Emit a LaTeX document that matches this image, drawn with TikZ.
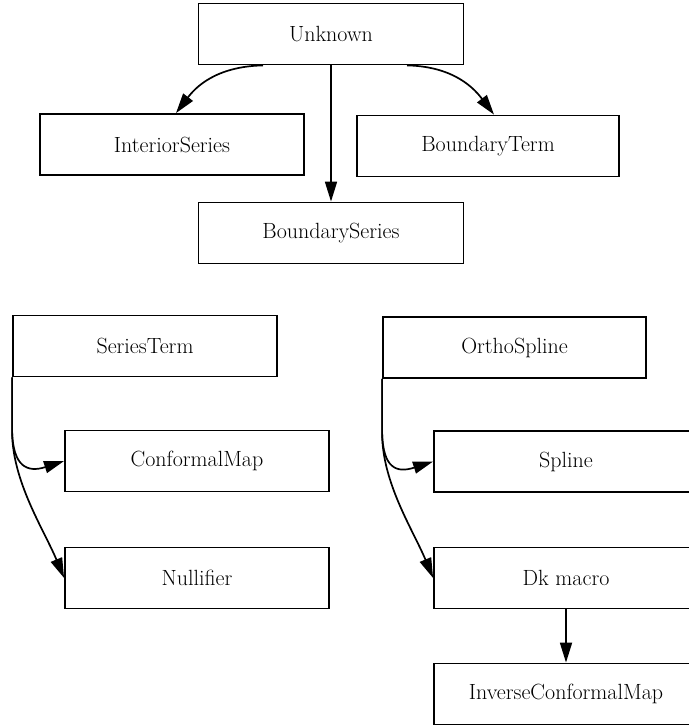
\documentclass[tikz,border=0pt]{standalone}
\usetikzlibrary{arrows.meta}
\begin{document}
\begin{tikzpicture}[x=1pt,y=-1pt,
  box/.style={draw,line width=1.8pt,minimum width=264pt,minimum height=61pt,inner sep=0pt,
    font=\fontsize{22}{26}\selectfont},
  arr/.style={line width=1.7pt,-{Triangle[length=20pt,width=12pt]}}]
\useasboundingbox (0,0) rectangle (688,727);
\node[box,minimum width=265pt] (unk) at (331,34) {Unknown};
\node[box] (int) at (172,144.5) {InteriorSeries};
\node[box,minimum width=262pt] (bt) at (488,146) {BoundaryTerm};
\node[box,minimum width=265pt] (bs) at (331,233) {BoundarySeries};
\node[box] (st) at (145,346) {SeriesTerm};
\node[box] (cm) at (197,461) {ConformalMap};
\node[box] (nu) at (197,578) {Nullifier};
\node[box,minimum width=263pt] (os) at (514.5,347.5) {OrthoSpline};
\node[box] (sp) at (566,461.5) {Spline};
\node[box] (dk) at (566,578) {Dk macro};
\node[box] (icm) at (566,694) {InverseConformalMap};
% top tree
\draw[arr] ([xshift=-68pt]unk.south) .. controls +(-48,1) and +(19,-25) .. ([xshift=4pt]int.north);
\draw[arr] ([xshift=76pt]unk.south) .. controls +(48,1) and +(-19,-25) .. ([xshift=6pt]bt.north);
\draw[arr] (unk.south) -- (bs.north);
% SeriesTerm
\draw[arr] (st.south west) -- ++(0,54) .. controls +(1,35) and +(-37,12) .. (cm.west);
\draw[arr] (st.south west) -- ++(0,54) .. controls +(0,50) and +(-20,-48) .. (nu.west);
% OrthoSpline
\draw[arr] (os.south west) -- ++(0,54) .. controls +(1,35) and +(-37,12) .. (sp.west);
\draw[arr] (os.south west) -- ++(0,54) .. controls +(0,50) and +(-20,-48) .. (dk.west);
\draw[arr] (dk.south) -- (icm.north);
\end{tikzpicture}
\end{document}
